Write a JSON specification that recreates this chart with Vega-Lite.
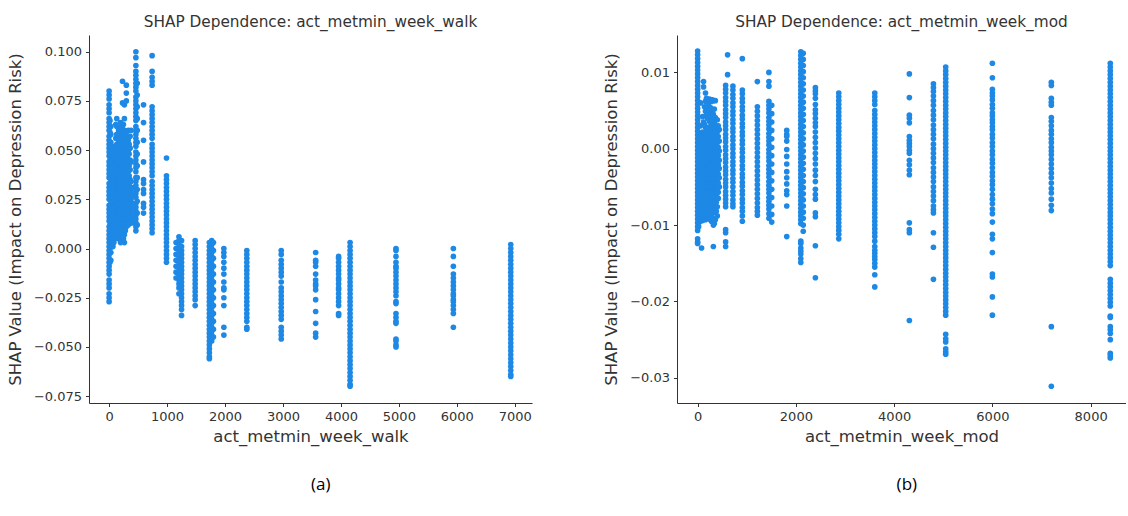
{
  "$schema": "https://vega.github.io/schema/vega-lite/v6.json",
  "background": "white",
  "padding": {"left": 7, "top": 14, "right": 0, "bottom": 14},
  "config": {
    "view": {"stroke": null},
    "font": "DejaVu Sans",
    "axis": {
      "grid": false,
      "domainColor": "#333333",
      "tickColor": "#333333",
      "labelColor": "#333333",
      "titleColor": "#333333",
      "labelFont": "DejaVu Sans",
      "titleFont": "DejaVu Sans",
      "labelFontSize": 13,
      "titleFontSize": 16.5,
      "titleFontWeight": "normal",
      "tickSize": 3.5,
      "labelPadding": 4,
      "titlePadding": 5,
      "labelExpr": "replace(datum.label, '-', '\u2212')"
    },
    "axisY": {"titlePadding": 10},
    "title": {"font": "DejaVu Sans", "fontSize": 15.3, "fontWeight": "normal", "color": "#333333", "offset": 5},
    "concat": {"spacing": 71}
  },
  "datasets": {
    "walk": [
      {"x":0,"y":0.080},{"x":0,"y":0.078},{"x":0,"y":0.076},{"x":0,"y":0.073},{"x":0,"y":0.071},{"x":0,"y":0.069},{"x":0,"y":0.066},{"x":0,"y":0.064},{"x":0,"y":0.062},{"x":0,"y":0.060},
      {"x":0,"y":0.057},{"x":0,"y":0.055},{"x":0,"y":0.053},{"x":0,"y":0.051},{"x":0,"y":0.049},{"x":0,"y":0.047},{"x":0,"y":0.044},{"x":0,"y":0.042},{"x":0,"y":0.040},{"x":0,"y":0.038},
      {"x":0,"y":0.036},{"x":0,"y":0.033},{"x":0,"y":0.031},{"x":0,"y":0.029},{"x":0,"y":0.027},{"x":0,"y":0.025},{"x":0,"y":0.022},{"x":0,"y":0.020},{"x":0,"y":0.018},{"x":0,"y":0.016},
      {"x":0,"y":0.014},{"x":0,"y":0.011},{"x":0,"y":0.009},{"x":0,"y":0.007},{"x":0,"y":0.005},{"x":0,"y":0.003},{"x":0,"y":0.001},{"x":0,"y":-0.001},{"x":0,"y":-0.003},{"x":0,"y":-0.005},
      {"x":0,"y":-0.007},{"x":0,"y":-0.009},{"x":0,"y":-0.011},{"x":0,"y":-0.013},{"x":0,"y":-0.016},{"x":0,"y":-0.018},{"x":0,"y":-0.020},{"x":0,"y":-0.023},{"x":0,"y":-0.025},{"x":0,"y":-0.027},
      {"x":15,"y":0.065},{"x":15,"y":0.059},{"x":15,"y":0.052},{"x":15,"y":0.045},{"x":15,"y":0.038},{"x":15,"y":0.032},{"x":15,"y":0.026},{"x":15,"y":0.019},{"x":15,"y":0.012},{"x":15,"y":0.006},{"x":15,"y":0.000},{"x":15,"y":-0.007},
      {"x":30,"y":0.062},{"x":30,"y":0.058},{"x":30,"y":0.054},{"x":30,"y":0.050},{"x":30,"y":0.046},{"x":30,"y":0.043},{"x":30,"y":0.039},{"x":30,"y":0.035},{"x":30,"y":0.031},{"x":30,"y":0.028},
      {"x":30,"y":0.024},{"x":30,"y":0.020},{"x":30,"y":0.016},{"x":30,"y":0.013},{"x":30,"y":0.009},{"x":30,"y":0.005},{"x":30,"y":0.002},{"x":30,"y":-0.002},{"x":30,"y":-0.006},
      {"x":48,"y":0.052},{"x":48,"y":0.047},{"x":48,"y":0.043},{"x":48,"y":0.039},{"x":48,"y":0.035},{"x":48,"y":0.030},{"x":48,"y":0.026},{"x":48,"y":0.022},{"x":48,"y":0.018},{"x":48,"y":0.014},{"x":48,"y":0.010},{"x":48,"y":0.006},{"x":48,"y":0.003},
      {"x":66,"y":0.045},{"x":66,"y":0.041},{"x":66,"y":0.037},{"x":66,"y":0.033},{"x":66,"y":0.028},{"x":66,"y":0.024},{"x":66,"y":0.020},{"x":66,"y":0.016},{"x":66,"y":0.012},{"x":66,"y":0.008},{"x":66,"y":0.004},{"x":66,"y":0.001},
      {"x":82,"y":0.048},{"x":82,"y":0.044},{"x":82,"y":0.039},{"x":82,"y":0.035},{"x":82,"y":0.031},{"x":82,"y":0.027},{"x":82,"y":0.023},{"x":82,"y":0.018},{"x":82,"y":0.014},{"x":82,"y":0.010},{"x":82,"y":0.006},{"x":82,"y":0.003},
      {"x":99,"y":0.050},{"x":99,"y":0.046},{"x":99,"y":0.042},{"x":99,"y":0.037},{"x":99,"y":0.033},{"x":99,"y":0.029},{"x":99,"y":0.025},{"x":99,"y":0.021},{"x":99,"y":0.016},{"x":99,"y":0.012},{"x":99,"y":0.008},{"x":99,"y":0.005},
      {"x":115,"y":0.063},{"x":115,"y":0.056},{"x":115,"y":0.052},{"x":115,"y":0.048},{"x":115,"y":0.044},{"x":115,"y":0.039},{"x":115,"y":0.035},{"x":115,"y":0.031},{"x":115,"y":0.027},{"x":115,"y":0.023},{"x":115,"y":0.019},{"x":115,"y":0.015},{"x":115,"y":0.011},{"x":115,"y":0.007},
      {"x":132,"y":0.066},{"x":132,"y":0.062},{"x":132,"y":0.058},{"x":132,"y":0.053},{"x":132,"y":0.048},{"x":132,"y":0.044},{"x":132,"y":0.040},{"x":132,"y":0.035},{"x":132,"y":0.031},{"x":132,"y":0.027},{"x":132,"y":0.022},{"x":132,"y":0.018},{"x":132,"y":0.014},{"x":132,"y":0.010},{"x":132,"y":0.006},
      {"x":148,"y":0.058},{"x":148,"y":0.053},{"x":148,"y":0.049},{"x":148,"y":0.044},{"x":148,"y":0.040},{"x":148,"y":0.036},{"x":148,"y":0.031},{"x":148,"y":0.027},{"x":148,"y":0.023},{"x":148,"y":0.019},{"x":148,"y":0.015},{"x":148,"y":0.011},{"x":148,"y":0.007},
      {"x":165,"y":0.060},{"x":165,"y":0.055},{"x":165,"y":0.050},{"x":165,"y":0.046},{"x":165,"y":0.042},{"x":165,"y":0.038},{"x":165,"y":0.033},{"x":165,"y":0.029},{"x":165,"y":0.025},{"x":165,"y":0.021},{"x":165,"y":0.017},{"x":165,"y":0.013},{"x":165,"y":0.009},{"x":165,"y":0.005},
      {"x":181,"y":0.057},{"x":181,"y":0.052},{"x":181,"y":0.047},{"x":181,"y":0.043},{"x":181,"y":0.038},{"x":181,"y":0.034},{"x":181,"y":0.030},{"x":181,"y":0.026},{"x":181,"y":0.022},{"x":181,"y":0.018},{"x":181,"y":0.014},{"x":181,"y":0.010},{"x":181,"y":0.006},
      {"x":198,"y":0.064},{"x":198,"y":0.059},{"x":198,"y":0.054},{"x":198,"y":0.049},{"x":198,"y":0.044},{"x":198,"y":0.039},{"x":198,"y":0.035},{"x":198,"y":0.030},{"x":198,"y":0.026},{"x":198,"y":0.022},{"x":198,"y":0.018},{"x":198,"y":0.014},{"x":198,"y":0.010},{"x":198,"y":0.006},{"x":198,"y":0.003},
      {"x":214,"y":0.062},{"x":214,"y":0.055},{"x":214,"y":0.050},{"x":214,"y":0.045},{"x":214,"y":0.041},{"x":214,"y":0.036},{"x":214,"y":0.032},{"x":214,"y":0.027},{"x":214,"y":0.023},{"x":214,"y":0.019},{"x":214,"y":0.015},{"x":214,"y":0.011},{"x":214,"y":0.007},{"x":214,"y":0.004},
      {"x":231,"y":0.085},{"x":231,"y":0.074},{"x":231,"y":0.061},{"x":231,"y":0.057},{"x":231,"y":0.052},{"x":231,"y":0.047},{"x":231,"y":0.043},{"x":231,"y":0.038},{"x":231,"y":0.034},{"x":231,"y":0.029},{"x":231,"y":0.025},{"x":231,"y":0.021},{"x":231,"y":0.016},{"x":231,"y":0.012},{"x":231,"y":0.008},{"x":231,"y":0.004},
      {"x":247,"y":0.063},{"x":247,"y":0.058},{"x":247,"y":0.053},{"x":247,"y":0.048},{"x":247,"y":0.043},{"x":247,"y":0.039},{"x":247,"y":0.034},{"x":247,"y":0.030},{"x":247,"y":0.026},{"x":247,"y":0.021},{"x":247,"y":0.017},{"x":247,"y":0.013},{"x":247,"y":0.009},{"x":247,"y":0.005},
      {"x":264,"y":0.073},{"x":264,"y":0.066},{"x":264,"y":0.060},{"x":264,"y":0.055},{"x":264,"y":0.050},{"x":264,"y":0.045},{"x":264,"y":0.041},{"x":264,"y":0.036},{"x":264,"y":0.032},{"x":264,"y":0.027},{"x":264,"y":0.023},{"x":264,"y":0.019},{"x":264,"y":0.015},{"x":264,"y":0.011},{"x":264,"y":0.007},{"x":264,"y":0.003},
      {"x":280,"y":0.057},{"x":280,"y":0.053},{"x":280,"y":0.048},{"x":280,"y":0.043},{"x":280,"y":0.038},{"x":280,"y":0.034},{"x":280,"y":0.029},{"x":280,"y":0.025},{"x":280,"y":0.021},{"x":280,"y":0.017},{"x":280,"y":0.013},{"x":280,"y":0.009},
      {"x":297,"y":0.083},{"x":297,"y":0.079},{"x":297,"y":0.075},{"x":297,"y":0.059},{"x":297,"y":0.052},{"x":297,"y":0.046},{"x":297,"y":0.041},{"x":297,"y":0.036},{"x":297,"y":0.031},{"x":297,"y":0.027},{"x":297,"y":0.023},{"x":297,"y":0.019},{"x":297,"y":0.015},{"x":297,"y":0.011},
      {"x":313,"y":0.055},{"x":313,"y":0.050},{"x":313,"y":0.046},{"x":313,"y":0.041},{"x":313,"y":0.037},{"x":313,"y":0.032},{"x":313,"y":0.028},{"x":313,"y":0.024},{"x":313,"y":0.020},{"x":313,"y":0.016},{"x":313,"y":0.013},
      {"x":330,"y":0.060},{"x":330,"y":0.055},{"x":330,"y":0.049},{"x":330,"y":0.044},{"x":330,"y":0.039},{"x":330,"y":0.034},{"x":330,"y":0.030},{"x":330,"y":0.026},{"x":330,"y":0.022},{"x":330,"y":0.018},{"x":330,"y":0.015},{"x":330,"y":0.012},
      {"x":346,"y":0.053},{"x":346,"y":0.048},{"x":346,"y":0.042},{"x":346,"y":0.037},{"x":346,"y":0.033},{"x":346,"y":0.029},{"x":346,"y":0.025},{"x":346,"y":0.021},{"x":346,"y":0.017},{"x":346,"y":0.014},
      {"x":363,"y":0.057},{"x":363,"y":0.051},{"x":363,"y":0.045},{"x":363,"y":0.040},{"x":363,"y":0.035},{"x":363,"y":0.031},{"x":363,"y":0.027},{"x":363,"y":0.023},{"x":363,"y":0.019},{"x":363,"y":0.016},{"x":363,"y":0.013},
      {"x":379,"y":0.060},{"x":379,"y":0.044},{"x":379,"y":0.034},{"x":379,"y":0.029},{"x":379,"y":0.025},{"x":379,"y":0.021},{"x":379,"y":0.017},{"x":379,"y":0.014},
      {"x":396,"y":0.031},{"x":396,"y":0.027},{"x":396,"y":0.023},{"x":396,"y":0.019},{"x":396,"y":0.016},{"x":396,"y":0.013},
      {"x":462,"y":0.100},{"x":462,"y":0.097},{"x":462,"y":0.093},{"x":462,"y":0.090},{"x":462,"y":0.088},{"x":462,"y":0.086},{"x":462,"y":0.084},{"x":462,"y":0.082},{"x":462,"y":0.080},{"x":462,"y":0.077},
      {"x":462,"y":0.075},{"x":462,"y":0.073},{"x":462,"y":0.071},{"x":462,"y":0.069},{"x":462,"y":0.067},{"x":462,"y":0.065},{"x":462,"y":0.062},{"x":462,"y":0.060},{"x":462,"y":0.058},{"x":462,"y":0.056},
      {"x":462,"y":0.054},{"x":462,"y":0.052},{"x":462,"y":0.049},{"x":462,"y":0.047},{"x":462,"y":0.045},{"x":462,"y":0.043},{"x":462,"y":0.041},{"x":462,"y":0.039},{"x":462,"y":0.036},{"x":462,"y":0.034},
      {"x":462,"y":0.032},{"x":462,"y":0.030},{"x":462,"y":0.028},{"x":462,"y":0.026},{"x":462,"y":0.023},{"x":462,"y":0.021},{"x":462,"y":0.019},{"x":462,"y":0.017},{"x":462,"y":0.015},{"x":462,"y":0.013},{"x":462,"y":0.011},{"x":462,"y":0.009},
      {"x":485,"y":0.084},{"x":485,"y":0.078},{"x":485,"y":0.072},{"x":485,"y":0.066},{"x":485,"y":0.060},{"x":485,"y":0.054},{"x":485,"y":0.048},{"x":485,"y":0.042},{"x":485,"y":0.036},{"x":485,"y":0.030},{"x":485,"y":0.024},{"x":485,"y":0.018},{"x":485,"y":0.012},
      {"x":594,"y":0.073},{"x":594,"y":0.064},{"x":594,"y":0.055},{"x":594,"y":0.044},{"x":594,"y":0.035},{"x":594,"y":0.033},{"x":594,"y":0.030},{"x":594,"y":0.028},{"x":594,"y":0.023},{"x":594,"y":0.021},{"x":594,"y":0.018},
      {"x":742,"y":0.098},{"x":742,"y":0.090},{"x":742,"y":0.087},{"x":742,"y":0.085},{"x":742,"y":0.083},{"x":742,"y":0.072},{"x":742,"y":0.070},{"x":742,"y":0.068},{"x":742,"y":0.066},{"x":742,"y":0.064},
      {"x":742,"y":0.062},{"x":742,"y":0.060},{"x":742,"y":0.058},{"x":742,"y":0.056},{"x":742,"y":0.053},{"x":742,"y":0.051},{"x":742,"y":0.049},{"x":742,"y":0.047},{"x":742,"y":0.045},{"x":742,"y":0.043},
      {"x":742,"y":0.041},{"x":742,"y":0.039},{"x":742,"y":0.037},{"x":742,"y":0.034},{"x":742,"y":0.032},{"x":742,"y":0.030},{"x":742,"y":0.028},{"x":742,"y":0.026},{"x":742,"y":0.024},{"x":742,"y":0.022},
      {"x":742,"y":0.020},{"x":742,"y":0.018},{"x":742,"y":0.016},{"x":742,"y":0.014},{"x":742,"y":0.012},{"x":742,"y":0.010},{"x":742,"y":0.008},
      {"x":990,"y":0.046},{"x":990,"y":0.037},{"x":990,"y":0.035},{"x":990,"y":0.033},{"x":990,"y":0.031},{"x":990,"y":0.029},{"x":990,"y":0.027},{"x":990,"y":0.025},{"x":990,"y":0.023},{"x":990,"y":0.021},{"x":990,"y":0.019},{"x":990,"y":0.017},
      {"x":990,"y":0.015},{"x":990,"y":0.013},{"x":990,"y":0.011},{"x":990,"y":0.009},{"x":990,"y":0.007},{"x":990,"y":0.005},{"x":990,"y":0.003},{"x":990,"y":0.001},{"x":990,"y":-0.001},{"x":990,"y":-0.003},{"x":990,"y":-0.005},{"x":990,"y":-0.007},
      {"x":1155,"y":0.003},{"x":1155,"y":0.000},{"x":1155,"y":-0.003},{"x":1155,"y":-0.006},{"x":1155,"y":-0.009},{"x":1155,"y":-0.012},{"x":1155,"y":-0.015},
      {"x":1205,"y":0.006},{"x":1205,"y":0.004},{"x":1205,"y":0.002},{"x":1205,"y":0.000},{"x":1205,"y":-0.002},{"x":1205,"y":-0.004},{"x":1205,"y":-0.006},{"x":1205,"y":-0.008},{"x":1205,"y":-0.010},{"x":1205,"y":-0.012},{"x":1205,"y":-0.014},{"x":1205,"y":-0.016},{"x":1205,"y":-0.018},{"x":1205,"y":-0.020},{"x":1205,"y":-0.023},
      {"x":1250,"y":0.004},{"x":1250,"y":0.001},{"x":1250,"y":-0.001},{"x":1250,"y":-0.003},{"x":1250,"y":-0.005},{"x":1250,"y":-0.007},{"x":1250,"y":-0.009},{"x":1250,"y":-0.011},{"x":1250,"y":-0.013},{"x":1250,"y":-0.015},
      {"x":1250,"y":-0.017},{"x":1250,"y":-0.019},{"x":1250,"y":-0.021},{"x":1250,"y":-0.023},{"x":1250,"y":-0.025},{"x":1250,"y":-0.027},{"x":1250,"y":-0.029},{"x":1250,"y":-0.031},{"x":1250,"y":-0.034},
      {"x":1485,"y":0.004},{"x":1485,"y":0.002},{"x":1485,"y":0.000},{"x":1485,"y":-0.002},{"x":1485,"y":-0.004},{"x":1485,"y":-0.006},{"x":1485,"y":-0.008},{"x":1485,"y":-0.010},{"x":1485,"y":-0.012},
      {"x":1485,"y":-0.014},{"x":1485,"y":-0.016},{"x":1485,"y":-0.018},{"x":1485,"y":-0.020},{"x":1485,"y":-0.022},{"x":1485,"y":-0.024},{"x":1485,"y":-0.026},{"x":1485,"y":-0.029},
      {"x":1730,"y":0.003},{"x":1730,"y":0.001},{"x":1730,"y":-0.001},{"x":1730,"y":-0.003},{"x":1730,"y":-0.005},{"x":1730,"y":-0.007},{"x":1730,"y":-0.009},{"x":1730,"y":-0.011},{"x":1730,"y":-0.013},{"x":1730,"y":-0.015},
      {"x":1730,"y":-0.017},{"x":1730,"y":-0.019},{"x":1730,"y":-0.021},{"x":1730,"y":-0.023},{"x":1730,"y":-0.025},{"x":1730,"y":-0.027},{"x":1730,"y":-0.029},{"x":1730,"y":-0.031},{"x":1730,"y":-0.033},{"x":1730,"y":-0.035},
      {"x":1730,"y":-0.037},{"x":1730,"y":-0.039},{"x":1730,"y":-0.041},{"x":1730,"y":-0.043},{"x":1730,"y":-0.045},{"x":1730,"y":-0.047},{"x":1730,"y":-0.049},{"x":1730,"y":-0.051},{"x":1730,"y":-0.053},{"x":1730,"y":-0.055},{"x":1730,"y":-0.056},
      {"x":1770,"y":0.004},{"x":1770,"y":0.002},{"x":1770,"y":0.000},{"x":1770,"y":-0.002},{"x":1770,"y":-0.004},{"x":1770,"y":-0.006},{"x":1770,"y":-0.008},{"x":1770,"y":-0.010},{"x":1770,"y":-0.012},{"x":1770,"y":-0.014},
      {"x":1770,"y":-0.016},{"x":1770,"y":-0.018},{"x":1770,"y":-0.020},{"x":1770,"y":-0.022},{"x":1770,"y":-0.024},{"x":1770,"y":-0.026},{"x":1770,"y":-0.028},{"x":1770,"y":-0.030},{"x":1770,"y":-0.032},{"x":1770,"y":-0.034},
      {"x":1770,"y":-0.036},{"x":1770,"y":-0.038},{"x":1770,"y":-0.040},{"x":1770,"y":-0.042},{"x":1770,"y":-0.044},{"x":1770,"y":-0.047},
      {"x":1800,"y":0.003},{"x":1800,"y":-0.001},{"x":1800,"y":-0.005},{"x":1800,"y":-0.009},{"x":1800,"y":-0.013},{"x":1800,"y":-0.017},{"x":1800,"y":-0.021},{"x":1800,"y":-0.025},{"x":1800,"y":-0.029},{"x":1800,"y":-0.033},{"x":1800,"y":-0.037},{"x":1800,"y":-0.041},{"x":1800,"y":-0.045},
      {"x":1980,"y":0.000},{"x":1980,"y":-0.002},{"x":1980,"y":-0.004},{"x":1980,"y":-0.007},{"x":1980,"y":-0.010},{"x":1980,"y":-0.013},{"x":1980,"y":-0.017},{"x":1980,"y":-0.020},{"x":1980,"y":-0.021},{"x":1980,"y":-0.025},{"x":1980,"y":-0.029},{"x":1980,"y":-0.040},{"x":1980,"y":-0.044},
      {"x":2376,"y":-0.001},{"x":2376,"y":-0.003},{"x":2376,"y":-0.005},{"x":2376,"y":-0.007},{"x":2376,"y":-0.009},{"x":2376,"y":-0.011},{"x":2376,"y":-0.013},{"x":2376,"y":-0.015},{"x":2376,"y":-0.017},{"x":2376,"y":-0.019},
      {"x":2376,"y":-0.021},{"x":2376,"y":-0.023},{"x":2376,"y":-0.025},{"x":2376,"y":-0.027},{"x":2376,"y":-0.029},{"x":2376,"y":-0.031},{"x":2376,"y":-0.033},{"x":2376,"y":-0.035},{"x":2376,"y":-0.037},{"x":2376,"y":-0.040},{"x":2376,"y":-0.041},
      {"x":2970,"y":-0.001},{"x":2970,"y":-0.003},{"x":2970,"y":-0.006},{"x":2970,"y":-0.008},{"x":2970,"y":-0.010},{"x":2970,"y":-0.012},{"x":2970,"y":-0.014},{"x":2970,"y":-0.017},{"x":2970,"y":-0.020},{"x":2970,"y":-0.022},
      {"x":2970,"y":-0.024},{"x":2970,"y":-0.026},{"x":2970,"y":-0.028},{"x":2970,"y":-0.030},{"x":2970,"y":-0.032},{"x":2970,"y":-0.034},{"x":2970,"y":-0.036},{"x":2970,"y":-0.040},{"x":2970,"y":-0.042},{"x":2970,"y":-0.044},{"x":2970,"y":-0.046},
      {"x":3564,"y":-0.002},{"x":3564,"y":-0.006},{"x":3564,"y":-0.007},{"x":3564,"y":-0.009},{"x":3564,"y":-0.013},{"x":3564,"y":-0.016},{"x":3564,"y":-0.018},{"x":3564,"y":-0.019},{"x":3564,"y":-0.021},{"x":3564,"y":-0.026},{"x":3564,"y":-0.032},{"x":3564,"y":-0.038},{"x":3564,"y":-0.043},{"x":3564,"y":-0.045},
      {"x":3960,"y":-0.004},{"x":3960,"y":-0.005},{"x":3960,"y":-0.007},{"x":3960,"y":-0.009},{"x":3960,"y":-0.011},{"x":3960,"y":-0.013},{"x":3960,"y":-0.015},{"x":3960,"y":-0.016},{"x":3960,"y":-0.018},
      {"x":3960,"y":-0.020},{"x":3960,"y":-0.021},{"x":3960,"y":-0.023},{"x":3960,"y":-0.025},{"x":3960,"y":-0.027},{"x":3960,"y":-0.029},{"x":3960,"y":-0.033},{"x":3960,"y":-0.034},
      {"x":4158,"y":0.003},{"x":4158,"y":0.001},{"x":4158,"y":-0.001},{"x":4158,"y":-0.003},{"x":4158,"y":-0.005},{"x":4158,"y":-0.007},{"x":4158,"y":-0.009},{"x":4158,"y":-0.011},{"x":4158,"y":-0.013},{"x":4158,"y":-0.015},
      {"x":4158,"y":-0.017},{"x":4158,"y":-0.019},{"x":4158,"y":-0.021},{"x":4158,"y":-0.023},{"x":4158,"y":-0.025},{"x":4158,"y":-0.027},{"x":4158,"y":-0.029},{"x":4158,"y":-0.031},{"x":4158,"y":-0.033},{"x":4158,"y":-0.035},
      {"x":4158,"y":-0.037},{"x":4158,"y":-0.039},{"x":4158,"y":-0.041},{"x":4158,"y":-0.043},{"x":4158,"y":-0.045},{"x":4158,"y":-0.047},{"x":4158,"y":-0.049},{"x":4158,"y":-0.051},{"x":4158,"y":-0.053},{"x":4158,"y":-0.055},
      {"x":4158,"y":-0.057},{"x":4158,"y":-0.059},{"x":4158,"y":-0.061},{"x":4158,"y":-0.063},{"x":4158,"y":-0.065},{"x":4158,"y":-0.067},{"x":4158,"y":-0.069},{"x":4158,"y":-0.070},
      {"x":4950,"y":0.000},{"x":4950,"y":-0.001},{"x":4950,"y":-0.004},{"x":4950,"y":-0.007},{"x":4950,"y":-0.009},{"x":4950,"y":-0.010},{"x":4950,"y":-0.012},{"x":4950,"y":-0.014},{"x":4950,"y":-0.016},{"x":4950,"y":-0.018},{"x":4950,"y":-0.020},{"x":4950,"y":-0.022},
      {"x":4950,"y":-0.024},{"x":4950,"y":-0.027},{"x":4950,"y":-0.028},{"x":4950,"y":-0.033},{"x":4950,"y":-0.035},{"x":4950,"y":-0.037},{"x":4950,"y":-0.038},{"x":4950,"y":-0.046},{"x":4950,"y":-0.047},{"x":4950,"y":-0.049},{"x":4950,"y":-0.050},
      {"x":5940,"y":0.000},{"x":5940,"y":-0.004},{"x":5940,"y":-0.009},{"x":5940,"y":-0.013},{"x":5940,"y":-0.015},{"x":5940,"y":-0.017},{"x":5940,"y":-0.019},{"x":5940,"y":-0.021},{"x":5940,"y":-0.023},{"x":5940,"y":-0.024},{"x":5940,"y":-0.026},{"x":5940,"y":-0.027},{"x":5940,"y":-0.029},{"x":5940,"y":-0.031},{"x":5940,"y":-0.033},{"x":5940,"y":-0.040},
      {"x":6930,"y":0.002},{"x":6930,"y":0.000},{"x":6930,"y":-0.002},{"x":6930,"y":-0.004},{"x":6930,"y":-0.006},{"x":6930,"y":-0.008},{"x":6930,"y":-0.010},{"x":6930,"y":-0.012},{"x":6930,"y":-0.014},{"x":6930,"y":-0.016},
      {"x":6930,"y":-0.018},{"x":6930,"y":-0.020},{"x":6930,"y":-0.022},{"x":6930,"y":-0.024},{"x":6930,"y":-0.026},{"x":6930,"y":-0.028},{"x":6930,"y":-0.030},{"x":6930,"y":-0.032},{"x":6930,"y":-0.034},{"x":6930,"y":-0.036},
      {"x":6930,"y":-0.038},{"x":6930,"y":-0.040},{"x":6930,"y":-0.042},{"x":6930,"y":-0.044},{"x":6930,"y":-0.046},{"x":6930,"y":-0.048},{"x":6930,"y":-0.050},{"x":6930,"y":-0.052},{"x":6930,"y":-0.054},{"x":6930,"y":-0.056},
      {"x":6930,"y":-0.058},{"x":6930,"y":-0.060},{"x":6930,"y":-0.062},{"x":6930,"y":-0.064},{"x":6930,"y":-0.065}
    ],
    "mod": [
      {"x":0,"y":0.0128},{"x":0,"y":0.0123},{"x":0,"y":0.0118},{"x":0,"y":0.0113},{"x":0,"y":0.0108},{"x":0,"y":0.0103},{"x":0,"y":0.0098},{"x":0,"y":0.0093},{"x":0,"y":0.0088},{"x":0,"y":0.0083},
      {"x":0,"y":0.0078},{"x":0,"y":0.0073},{"x":0,"y":0.0068},{"x":0,"y":0.0063},{"x":0,"y":0.0058},{"x":0,"y":0.0053},{"x":0,"y":0.0048},{"x":0,"y":0.0043},{"x":0,"y":0.0038},{"x":0,"y":0.0033},
      {"x":0,"y":0.0028},{"x":0,"y":0.0023},{"x":0,"y":0.0018},{"x":0,"y":0.0013},{"x":0,"y":0.0008},{"x":0,"y":0.0003},{"x":0,"y":-0.0002},{"x":0,"y":-0.0007},{"x":0,"y":-0.0012},{"x":0,"y":-0.0017},
      {"x":0,"y":-0.0022},{"x":0,"y":-0.0027},{"x":0,"y":-0.0032},{"x":0,"y":-0.0037},{"x":0,"y":-0.0042},{"x":0,"y":-0.0047},{"x":0,"y":-0.0052},{"x":0,"y":-0.0057},{"x":0,"y":-0.0062},{"x":0,"y":-0.0067},
      {"x":0,"y":-0.0072},{"x":0,"y":-0.0077},{"x":0,"y":-0.0082},{"x":0,"y":-0.0087},{"x":0,"y":-0.0092},{"x":0,"y":-0.0097},{"x":0,"y":-0.0102},{"x":0,"y":-0.0107},{"x":0,"y":-0.0118},{"x":0,"y":-0.0122},{"x":0,"y":-0.0124},
      {"x":20,"y":0.0020},{"x":20,"y":0.0010},{"x":20,"y":0.0001},{"x":20,"y":-0.0008},{"x":20,"y":-0.0016},{"x":20,"y":-0.0025},{"x":20,"y":-0.0033},{"x":20,"y":-0.0042},{"x":20,"y":-0.0050},{"x":20,"y":-0.0059},{"x":20,"y":-0.0068},{"x":20,"y":-0.0076},{"x":20,"y":-0.0085},{"x":20,"y":-0.0093},{"x":20,"y":-0.0102},
      {"x":40,"y":0.0015},{"x":40,"y":0.0005},{"x":40,"y":-0.0003},{"x":40,"y":-0.0012},{"x":40,"y":-0.0020},{"x":40,"y":-0.0029},{"x":40,"y":-0.0037},{"x":40,"y":-0.0046},{"x":40,"y":-0.0055},{"x":40,"y":-0.0063},{"x":40,"y":-0.0072},{"x":40,"y":-0.0080},{"x":40,"y":-0.0089},{"x":40,"y":-0.0096},
      {"x":60,"y":0.0060},{"x":60,"y":0.0030},{"x":60,"y":0.0016},{"x":60,"y":0.0007},{"x":60,"y":-0.0002},{"x":60,"y":-0.0011},{"x":60,"y":-0.0020},{"x":60,"y":-0.0029},{"x":60,"y":-0.0038},{"x":60,"y":-0.0047},{"x":60,"y":-0.0056},{"x":60,"y":-0.0064},{"x":60,"y":-0.0073},{"x":60,"y":-0.0082},{"x":60,"y":-0.0090},
      {"x":80,"y":0.0020},{"x":80,"y":0.0011},{"x":80,"y":0.0002},{"x":80,"y":-0.0007},{"x":80,"y":-0.0016},{"x":80,"y":-0.0025},{"x":80,"y":-0.0033},{"x":80,"y":-0.0042},{"x":80,"y":-0.0051},{"x":80,"y":-0.0060},{"x":80,"y":-0.0068},{"x":80,"y":-0.0077},{"x":80,"y":-0.0086},{"x":80,"y":-0.0094},{"x":80,"y":-0.0130},
      {"x":100,"y":0.0042},{"x":100,"y":0.0022},{"x":100,"y":0.0012},{"x":100,"y":0.0003},{"x":100,"y":-0.0006},{"x":100,"y":-0.0015},{"x":100,"y":-0.0024},{"x":100,"y":-0.0033},{"x":100,"y":-0.0042},{"x":100,"y":-0.0050},{"x":100,"y":-0.0059},{"x":100,"y":-0.0068},{"x":100,"y":-0.0077},{"x":100,"y":-0.0086},{"x":100,"y":-0.0094},
      {"x":120,"y":0.0088},{"x":120,"y":0.0081},{"x":120,"y":0.0035},{"x":120,"y":0.0017},{"x":120,"y":0.0008},{"x":120,"y":-0.0001},{"x":120,"y":-0.0010},{"x":120,"y":-0.0019},{"x":120,"y":-0.0028},{"x":120,"y":-0.0037},{"x":120,"y":-0.0046},{"x":120,"y":-0.0055},{"x":120,"y":-0.0064},{"x":120,"y":-0.0073},{"x":120,"y":-0.0082},{"x":120,"y":-0.0090},
      {"x":140,"y":0.0055},{"x":140,"y":0.0032},{"x":140,"y":0.0021},{"x":140,"y":0.0010},{"x":140,"y":0.0000},{"x":140,"y":-0.0009},{"x":140,"y":-0.0018},{"x":140,"y":-0.0027},{"x":140,"y":-0.0036},{"x":140,"y":-0.0044},{"x":140,"y":-0.0053},{"x":140,"y":-0.0062},{"x":140,"y":-0.0071},{"x":140,"y":-0.0080},{"x":140,"y":-0.0089},
      {"x":160,"y":0.0073},{"x":160,"y":0.0062},{"x":160,"y":0.0049},{"x":160,"y":0.0028},{"x":160,"y":0.0015},{"x":160,"y":0.0005},{"x":160,"y":-0.0004},{"x":160,"y":-0.0013},{"x":160,"y":-0.0022},{"x":160,"y":-0.0031},{"x":160,"y":-0.0040},{"x":160,"y":-0.0049},{"x":160,"y":-0.0058},{"x":160,"y":-0.0067},{"x":160,"y":-0.0076},{"x":160,"y":-0.0085},{"x":160,"y":-0.0093},
      {"x":180,"y":0.0066},{"x":180,"y":0.0044},{"x":180,"y":0.0019},{"x":180,"y":0.0009},{"x":180,"y":-0.0001},{"x":180,"y":-0.0010},{"x":180,"y":-0.0020},{"x":180,"y":-0.0030},{"x":180,"y":-0.0039},{"x":180,"y":-0.0049},{"x":180,"y":-0.0058},{"x":180,"y":-0.0067},{"x":180,"y":-0.0076},{"x":180,"y":-0.0084},
      {"x":200,"y":0.0064},{"x":200,"y":0.0055},{"x":200,"y":0.0040},{"x":200,"y":0.0023},{"x":200,"y":0.0012},{"x":200,"y":0.0002},{"x":200,"y":-0.0008},{"x":200,"y":-0.0017},{"x":200,"y":-0.0027},{"x":200,"y":-0.0036},{"x":200,"y":-0.0045},{"x":200,"y":-0.0054},{"x":200,"y":-0.0063},{"x":200,"y":-0.0072},{"x":200,"y":-0.0081},{"x":200,"y":-0.0088},
      {"x":220,"y":0.0059},{"x":220,"y":0.0045},{"x":220,"y":0.0028},{"x":220,"y":0.0016},{"x":220,"y":0.0005},{"x":220,"y":-0.0005},{"x":220,"y":-0.0015},{"x":220,"y":-0.0025},{"x":220,"y":-0.0035},{"x":220,"y":-0.0045},{"x":220,"y":-0.0055},{"x":220,"y":-0.0065},{"x":220,"y":-0.0075},{"x":220,"y":-0.0085},
      {"x":240,"y":0.0065},{"x":240,"y":0.0050},{"x":240,"y":0.0036},{"x":240,"y":0.0020},{"x":240,"y":0.0009},{"x":240,"y":-0.0001},{"x":240,"y":-0.0011},{"x":240,"y":-0.0021},{"x":240,"y":-0.0031},{"x":240,"y":-0.0041},{"x":240,"y":-0.0051},{"x":240,"y":-0.0060},{"x":240,"y":-0.0070},{"x":240,"y":-0.0079},{"x":240,"y":-0.0092},
      {"x":260,"y":0.0063},{"x":260,"y":0.0054},{"x":260,"y":0.0040},{"x":260,"y":0.0025},{"x":260,"y":0.0012},{"x":260,"y":0.0001},{"x":260,"y":-0.0009},{"x":260,"y":-0.0019},{"x":260,"y":-0.0029},{"x":260,"y":-0.0039},{"x":260,"y":-0.0049},{"x":260,"y":-0.0059},{"x":260,"y":-0.0069},{"x":260,"y":-0.0080},{"x":260,"y":-0.0090},
      {"x":280,"y":0.0062},{"x":280,"y":0.0047},{"x":280,"y":0.0032},{"x":280,"y":0.0018},{"x":280,"y":0.0006},{"x":280,"y":-0.0004},{"x":280,"y":-0.0014},{"x":280,"y":-0.0024},{"x":280,"y":-0.0034},{"x":280,"y":-0.0044},{"x":280,"y":-0.0054},{"x":280,"y":-0.0064},{"x":280,"y":-0.0074},{"x":280,"y":-0.0085},{"x":280,"y":-0.0095},
      {"x":300,"y":0.0064},{"x":300,"y":0.0038},{"x":300,"y":0.0023},{"x":300,"y":0.0009},{"x":300,"y":-0.0002},{"x":300,"y":-0.0013},{"x":300,"y":-0.0024},{"x":300,"y":-0.0034},{"x":300,"y":-0.0045},{"x":300,"y":-0.0055},{"x":300,"y":-0.0066},{"x":300,"y":-0.0077},{"x":300,"y":-0.0090},
      {"x":320,"y":0.0063},{"x":320,"y":0.0045},{"x":320,"y":0.0030},{"x":320,"y":0.0014},{"x":320,"y":0.0003},{"x":320,"y":-0.0008},{"x":320,"y":-0.0019},{"x":320,"y":-0.0029},{"x":320,"y":-0.0039},{"x":320,"y":-0.0050},{"x":320,"y":-0.0060},{"x":320,"y":-0.0071},{"x":320,"y":-0.0082},{"x":320,"y":-0.0100},{"x":320,"y":-0.0128},
      {"x":340,"y":0.0052},{"x":340,"y":0.0035},{"x":340,"y":0.0019},{"x":340,"y":0.0005},{"x":340,"y":-0.0006},{"x":340,"y":-0.0017},{"x":340,"y":-0.0028},{"x":340,"y":-0.0039},{"x":340,"y":-0.0050},{"x":340,"y":-0.0061},{"x":340,"y":-0.0072},{"x":340,"y":-0.0083},{"x":340,"y":-0.0098},
      {"x":360,"y":0.0063},{"x":360,"y":0.0041},{"x":360,"y":0.0026},{"x":360,"y":0.0010},{"x":360,"y":-0.0001},{"x":360,"y":-0.0012},{"x":360,"y":-0.0023},{"x":360,"y":-0.0034},{"x":360,"y":-0.0045},{"x":360,"y":-0.0056},{"x":360,"y":-0.0067},{"x":360,"y":-0.0078},{"x":360,"y":-0.0093},
      {"x":380,"y":0.0030},{"x":380,"y":0.0015},{"x":380,"y":0.0002},{"x":380,"y":-0.0010},{"x":380,"y":-0.0022},{"x":380,"y":-0.0034},{"x":380,"y":-0.0046},{"x":380,"y":-0.0058},{"x":380,"y":-0.0070},{"x":380,"y":-0.0082},
      {"x":400,"y":0.0038},{"x":400,"y":0.0022},{"x":400,"y":0.0008},{"x":400,"y":-0.0004},{"x":400,"y":-0.0016},{"x":400,"y":-0.0028},{"x":400,"y":-0.0040},{"x":400,"y":-0.0052},{"x":400,"y":-0.0064},{"x":400,"y":-0.0076},{"x":400,"y":-0.0088},
      {"x":420,"y":0.0030},{"x":420,"y":0.0016},{"x":420,"y":0.0002},{"x":420,"y":-0.0009},{"x":420,"y":-0.0021},{"x":420,"y":-0.0033},{"x":420,"y":-0.0045},{"x":420,"y":-0.0057},{"x":420,"y":-0.0065},
      {"x":440,"y":0.0025},{"x":440,"y":0.0010},{"x":440,"y":-0.0003},{"x":440,"y":-0.0015},{"x":440,"y":-0.0026},{"x":440,"y":-0.0038},{"x":440,"y":-0.0050},
      {"x":570,"y":0.0083},{"x":570,"y":0.0078},{"x":570,"y":0.0073},{"x":570,"y":0.0067},{"x":570,"y":0.0062},{"x":570,"y":0.0057},{"x":570,"y":0.0051},{"x":570,"y":0.0046},{"x":570,"y":0.0041},{"x":570,"y":0.0035},
      {"x":570,"y":0.0030},{"x":570,"y":0.0025},{"x":570,"y":0.0019},{"x":570,"y":0.0014},{"x":570,"y":0.0009},{"x":570,"y":0.0003},{"x":570,"y":-0.0002},{"x":570,"y":-0.0008},{"x":570,"y":-0.0013},{"x":570,"y":-0.0018},
      {"x":570,"y":-0.0024},{"x":570,"y":-0.0029},{"x":570,"y":-0.0034},{"x":570,"y":-0.0040},{"x":570,"y":-0.0045},{"x":570,"y":-0.0050},{"x":570,"y":-0.0056},{"x":570,"y":-0.0061},{"x":570,"y":-0.0066},{"x":570,"y":-0.0071},
      {"x":570,"y":-0.0076},{"x":570,"y":-0.0106},{"x":570,"y":-0.0110},{"x":570,"y":-0.0122},{"x":570,"y":-0.0128},
      {"x":610,"y":0.0123},{"x":610,"y":0.0097},
      {"x":718,"y":0.0082},{"x":718,"y":0.0077},{"x":718,"y":0.0071},{"x":718,"y":0.0066},{"x":718,"y":0.0060},{"x":718,"y":0.0055},{"x":718,"y":0.0049},{"x":718,"y":0.0044},{"x":718,"y":0.0038},{"x":718,"y":0.0033},
      {"x":718,"y":0.0027},{"x":718,"y":0.0022},{"x":718,"y":0.0016},{"x":718,"y":0.0011},{"x":718,"y":0.0005},{"x":718,"y":0.0000},{"x":718,"y":-0.0006},{"x":718,"y":-0.0011},{"x":718,"y":-0.0017},{"x":718,"y":-0.0022},
      {"x":718,"y":-0.0028},{"x":718,"y":-0.0033},{"x":718,"y":-0.0039},{"x":718,"y":-0.0044},{"x":718,"y":-0.0050},{"x":718,"y":-0.0056},{"x":718,"y":-0.0061},{"x":718,"y":-0.0067},{"x":718,"y":-0.0072},{"x":718,"y":-0.0076},
      {"x":910,"y":0.0118},{"x":910,"y":0.0077},{"x":910,"y":0.0072},{"x":910,"y":0.0066},{"x":910,"y":0.0061},{"x":910,"y":0.0055},{"x":910,"y":0.0050},{"x":910,"y":0.0044},{"x":910,"y":0.0039},{"x":910,"y":0.0033},
      {"x":910,"y":0.0028},{"x":910,"y":0.0022},{"x":910,"y":0.0017},{"x":910,"y":0.0011},{"x":910,"y":0.0006},{"x":910,"y":0.0000},{"x":910,"y":-0.0005},{"x":910,"y":-0.0011},{"x":910,"y":-0.0016},{"x":910,"y":-0.0022},
      {"x":910,"y":-0.0027},{"x":910,"y":-0.0033},{"x":910,"y":-0.0038},{"x":910,"y":-0.0044},{"x":910,"y":-0.0049},{"x":910,"y":-0.0055},{"x":910,"y":-0.0060},{"x":910,"y":-0.0066},{"x":910,"y":-0.0071},{"x":910,"y":-0.0077},{"x":910,"y":-0.0082},{"x":910,"y":-0.0088},{"x":910,"y":-0.0095},
      {"x":1216,"y":0.0088},{"x":1216,"y":0.0055},{"x":1216,"y":0.0049},{"x":1216,"y":0.0043},{"x":1216,"y":0.0037},{"x":1216,"y":0.0031},{"x":1216,"y":0.0025},{"x":1216,"y":0.0019},{"x":1216,"y":0.0013},{"x":1216,"y":0.0007},
      {"x":1216,"y":0.0001},{"x":1216,"y":-0.0005},{"x":1216,"y":-0.0011},{"x":1216,"y":-0.0017},{"x":1216,"y":-0.0023},{"x":1216,"y":-0.0029},{"x":1216,"y":-0.0035},{"x":1216,"y":-0.0041},{"x":1216,"y":-0.0047},{"x":1216,"y":-0.0053},
      {"x":1216,"y":-0.0059},{"x":1216,"y":-0.0065},{"x":1216,"y":-0.0071},{"x":1216,"y":-0.0077},{"x":1216,"y":-0.0082},{"x":1216,"y":-0.0087},
      {"x":1451,"y":0.0100},{"x":1451,"y":0.0088},{"x":1451,"y":0.0082},{"x":1451,"y":0.0062},{"x":1451,"y":0.0057},{"x":1451,"y":0.0052},{"x":1451,"y":0.0047},{"x":1451,"y":0.0041},{"x":1451,"y":0.0036},{"x":1451,"y":0.0031},
      {"x":1451,"y":0.0026},{"x":1451,"y":0.0020},{"x":1451,"y":0.0015},{"x":1451,"y":0.0010},{"x":1451,"y":0.0005},{"x":1451,"y":-0.0001},{"x":1451,"y":-0.0006},{"x":1451,"y":-0.0011},{"x":1451,"y":-0.0016},{"x":1451,"y":-0.0022},
      {"x":1451,"y":-0.0027},{"x":1451,"y":-0.0032},{"x":1451,"y":-0.0037},{"x":1451,"y":-0.0043},{"x":1451,"y":-0.0048},{"x":1451,"y":-0.0053},{"x":1451,"y":-0.0058},{"x":1451,"y":-0.0064},{"x":1451,"y":-0.0069},{"x":1451,"y":-0.0074},{"x":1451,"y":-0.0079},{"x":1451,"y":-0.0085},{"x":1451,"y":-0.0091},
      {"x":1508,"y":0.0057},{"x":1508,"y":0.0046},{"x":1508,"y":0.0035},{"x":1508,"y":0.0024},{"x":1508,"y":0.0013},{"x":1508,"y":0.0002},{"x":1508,"y":-0.0009},{"x":1508,"y":-0.0020},{"x":1508,"y":-0.0031},{"x":1508,"y":-0.0042},{"x":1508,"y":-0.0053},{"x":1508,"y":-0.0064},{"x":1508,"y":-0.0075},{"x":1508,"y":-0.0086},{"x":1508,"y":-0.0096},
      {"x":1814,"y":0.0024},{"x":1814,"y":0.0019},{"x":1814,"y":0.0016},{"x":1814,"y":0.0010},{"x":1814,"y":-0.0001},{"x":1814,"y":-0.0010},{"x":1814,"y":-0.0020},{"x":1814,"y":-0.0030},{"x":1814,"y":-0.0038},{"x":1814,"y":-0.0046},{"x":1814,"y":-0.0055},{"x":1814,"y":-0.0060},{"x":1814,"y":-0.0075},{"x":1814,"y":-0.0115},
      {"x":2100,"y":0.0127},{"x":2100,"y":0.0122},{"x":2100,"y":0.0117},{"x":2100,"y":0.0112},{"x":2100,"y":0.0107},{"x":2100,"y":0.0102},{"x":2100,"y":0.0097},{"x":2100,"y":0.0092},{"x":2100,"y":0.0087},{"x":2100,"y":0.0082},
      {"x":2100,"y":0.0077},{"x":2100,"y":0.0072},{"x":2100,"y":0.0067},{"x":2100,"y":0.0062},{"x":2100,"y":0.0057},{"x":2100,"y":0.0052},{"x":2100,"y":0.0047},{"x":2100,"y":0.0042},{"x":2100,"y":0.0037},{"x":2100,"y":0.0032},
      {"x":2100,"y":0.0027},{"x":2100,"y":0.0022},{"x":2100,"y":0.0017},{"x":2100,"y":0.0012},{"x":2100,"y":0.0007},{"x":2100,"y":0.0002},{"x":2100,"y":-0.0003},{"x":2100,"y":-0.0008},{"x":2100,"y":-0.0013},{"x":2100,"y":-0.0018},
      {"x":2100,"y":-0.0023},{"x":2100,"y":-0.0028},{"x":2100,"y":-0.0033},{"x":2100,"y":-0.0038},{"x":2100,"y":-0.0043},{"x":2100,"y":-0.0048},{"x":2100,"y":-0.0053},{"x":2100,"y":-0.0058},{"x":2100,"y":-0.0063},{"x":2100,"y":-0.0068},
      {"x":2100,"y":-0.0073},{"x":2100,"y":-0.0078},{"x":2100,"y":-0.0083},{"x":2100,"y":-0.0088},{"x":2100,"y":-0.0093},{"x":2100,"y":-0.0098},{"x":2100,"y":-0.0121},{"x":2100,"y":-0.0124},{"x":2100,"y":-0.0130},{"x":2100,"y":-0.0134},{"x":2100,"y":-0.0138},{"x":2100,"y":-0.0144},{"x":2100,"y":-0.0149},
      {"x":2150,"y":0.0125},{"x":2150,"y":0.0117},{"x":2150,"y":0.0109},{"x":2150,"y":0.0101},{"x":2150,"y":0.0093},{"x":2150,"y":0.0085},{"x":2150,"y":0.0077},{"x":2150,"y":0.0069},{"x":2150,"y":0.0061},{"x":2150,"y":0.0053},
      {"x":2150,"y":0.0045},{"x":2150,"y":0.0037},{"x":2150,"y":0.0029},{"x":2150,"y":0.0021},{"x":2150,"y":0.0013},{"x":2150,"y":0.0005},{"x":2150,"y":-0.0003},{"x":2150,"y":-0.0011},{"x":2150,"y":-0.0019},{"x":2150,"y":-0.0027},
      {"x":2150,"y":-0.0035},{"x":2150,"y":-0.0043},{"x":2150,"y":-0.0051},{"x":2150,"y":-0.0059},{"x":2150,"y":-0.0067},{"x":2150,"y":-0.0075},{"x":2150,"y":-0.0083},{"x":2150,"y":-0.0091},{"x":2150,"y":-0.0100},{"x":2150,"y":-0.0108},
      {"x":2397,"y":0.0080},{"x":2397,"y":0.0076},{"x":2397,"y":0.0072},{"x":2397,"y":0.0066},{"x":2397,"y":0.0058},{"x":2397,"y":0.0051},{"x":2397,"y":0.0046},{"x":2397,"y":0.0040},{"x":2397,"y":0.0034},{"x":2397,"y":0.0029},
      {"x":2397,"y":0.0022},{"x":2397,"y":0.0015},{"x":2397,"y":0.0008},{"x":2397,"y":0.0001},{"x":2397,"y":-0.0006},{"x":2397,"y":-0.0013},{"x":2397,"y":-0.0020},{"x":2397,"y":-0.0028},{"x":2397,"y":-0.0035},{"x":2397,"y":-0.0043},
      {"x":2397,"y":-0.0053},{"x":2397,"y":-0.0060},{"x":2397,"y":-0.0066},{"x":2397,"y":-0.0084},{"x":2397,"y":-0.0089},{"x":2397,"y":-0.0127},{"x":2397,"y":-0.0169},
      {"x":2873,"y":0.0073},{"x":2873,"y":0.0068},{"x":2873,"y":0.0063},{"x":2873,"y":0.0058},{"x":2873,"y":0.0053},{"x":2873,"y":0.0048},{"x":2873,"y":0.0043},{"x":2873,"y":0.0038},{"x":2873,"y":0.0033},{"x":2873,"y":0.0028},
      {"x":2873,"y":0.0023},{"x":2873,"y":0.0018},{"x":2873,"y":0.0013},{"x":2873,"y":0.0008},{"x":2873,"y":0.0003},{"x":2873,"y":-0.0002},{"x":2873,"y":-0.0007},{"x":2873,"y":-0.0012},{"x":2873,"y":-0.0017},{"x":2873,"y":-0.0022},
      {"x":2873,"y":-0.0027},{"x":2873,"y":-0.0032},{"x":2873,"y":-0.0037},{"x":2873,"y":-0.0042},{"x":2873,"y":-0.0047},{"x":2873,"y":-0.0052},{"x":2873,"y":-0.0057},{"x":2873,"y":-0.0062},{"x":2873,"y":-0.0067},{"x":2873,"y":-0.0072},
      {"x":2873,"y":-0.0077},{"x":2873,"y":-0.0082},{"x":2873,"y":-0.0087},{"x":2873,"y":-0.0092},{"x":2873,"y":-0.0097},{"x":2873,"y":-0.0102},{"x":2873,"y":-0.0107},{"x":2873,"y":-0.0112},{"x":2873,"y":-0.0118},
      {"x":3606,"y":0.0073},{"x":3606,"y":0.0068},{"x":3606,"y":0.0063},{"x":3606,"y":0.0058},{"x":3606,"y":0.0050},{"x":3606,"y":0.0045},{"x":3606,"y":0.0040},{"x":3606,"y":0.0035},{"x":3606,"y":0.0030},{"x":3606,"y":0.0025},
      {"x":3606,"y":0.0020},{"x":3606,"y":0.0015},{"x":3606,"y":0.0010},{"x":3606,"y":0.0005},{"x":3606,"y":0.0000},{"x":3606,"y":-0.0005},{"x":3606,"y":-0.0010},{"x":3606,"y":-0.0015},{"x":3606,"y":-0.0020},{"x":3606,"y":-0.0025},
      {"x":3606,"y":-0.0030},{"x":3606,"y":-0.0035},{"x":3606,"y":-0.0040},{"x":3606,"y":-0.0045},{"x":3606,"y":-0.0050},{"x":3606,"y":-0.0055},{"x":3606,"y":-0.0060},{"x":3606,"y":-0.0065},{"x":3606,"y":-0.0070},{"x":3606,"y":-0.0075},
      {"x":3606,"y":-0.0080},{"x":3606,"y":-0.0085},{"x":3606,"y":-0.0090},{"x":3606,"y":-0.0095},{"x":3606,"y":-0.0100},{"x":3606,"y":-0.0105},{"x":3606,"y":-0.0110},{"x":3606,"y":-0.0115},{"x":3606,"y":-0.0121},{"x":3606,"y":-0.0128},
      {"x":3606,"y":-0.0133},{"x":3606,"y":-0.0137},{"x":3606,"y":-0.0141},{"x":3606,"y":-0.0145},{"x":3606,"y":-0.0150},{"x":3606,"y":-0.0155},{"x":3606,"y":-0.0165},{"x":3606,"y":-0.0181},
      {"x":4310,"y":0.0098},{"x":4310,"y":0.0067},{"x":4310,"y":0.0044},{"x":4310,"y":0.0040},{"x":4310,"y":0.0034},{"x":4310,"y":0.0016},{"x":4310,"y":0.0011},{"x":4310,"y":0.0007},{"x":4310,"y":0.0003},{"x":4310,"y":-0.0002},
      {"x":4310,"y":-0.0006},{"x":4310,"y":-0.0015},{"x":4310,"y":-0.0021},{"x":4310,"y":-0.0028},{"x":4310,"y":-0.0034},{"x":4310,"y":-0.0097},{"x":4310,"y":-0.0106},{"x":4310,"y":-0.0110},{"x":4310,"y":-0.0225},
      {"x":4800,"y":0.0085},{"x":4800,"y":0.0080},{"x":4800,"y":0.0075},{"x":4800,"y":0.0069},{"x":4800,"y":0.0063},{"x":4800,"y":0.0057},{"x":4800,"y":0.0050},{"x":4800,"y":0.0044},{"x":4800,"y":0.0038},{"x":4800,"y":0.0031},
      {"x":4800,"y":0.0025},{"x":4800,"y":0.0019},{"x":4800,"y":0.0013},{"x":4800,"y":0.0006},{"x":4800,"y":0.0000},{"x":4800,"y":-0.0006},{"x":4800,"y":-0.0012},{"x":4800,"y":-0.0018},{"x":4800,"y":-0.0025},{"x":4800,"y":-0.0031},
      {"x":4800,"y":-0.0037},{"x":4800,"y":-0.0043},{"x":4800,"y":-0.0050},{"x":4800,"y":-0.0056},{"x":4800,"y":-0.0062},{"x":4800,"y":-0.0068},{"x":4800,"y":-0.0075},{"x":4800,"y":-0.0080},{"x":4800,"y":-0.0084},{"x":4800,"y":-0.0110},{"x":4800,"y":-0.0129},{"x":4800,"y":-0.0171},
      {"x":5050,"y":0.0107},{"x":5050,"y":0.0102},{"x":5050,"y":0.0097},{"x":5050,"y":0.0092},{"x":5050,"y":0.0087},{"x":5050,"y":0.0082},{"x":5050,"y":0.0077},{"x":5050,"y":0.0072},{"x":5050,"y":0.0067},{"x":5050,"y":0.0062},
      {"x":5050,"y":0.0057},{"x":5050,"y":0.0052},{"x":5050,"y":0.0047},{"x":5050,"y":0.0042},{"x":5050,"y":0.0037},{"x":5050,"y":0.0032},{"x":5050,"y":0.0027},{"x":5050,"y":0.0022},{"x":5050,"y":0.0017},{"x":5050,"y":0.0012},
      {"x":5050,"y":0.0007},{"x":5050,"y":0.0002},{"x":5050,"y":-0.0003},{"x":5050,"y":-0.0008},{"x":5050,"y":-0.0013},{"x":5050,"y":-0.0018},{"x":5050,"y":-0.0023},{"x":5050,"y":-0.0028},{"x":5050,"y":-0.0033},{"x":5050,"y":-0.0038},
      {"x":5050,"y":-0.0043},{"x":5050,"y":-0.0048},{"x":5050,"y":-0.0053},{"x":5050,"y":-0.0058},{"x":5050,"y":-0.0063},{"x":5050,"y":-0.0068},{"x":5050,"y":-0.0073},{"x":5050,"y":-0.0078},{"x":5050,"y":-0.0083},{"x":5050,"y":-0.0088},
      {"x":5050,"y":-0.0093},{"x":5050,"y":-0.0098},{"x":5050,"y":-0.0103},{"x":5050,"y":-0.0108},{"x":5050,"y":-0.0113},{"x":5050,"y":-0.0118},{"x":5050,"y":-0.0123},{"x":5050,"y":-0.0128},{"x":5050,"y":-0.0133},{"x":5050,"y":-0.0138},
      {"x":5050,"y":-0.0143},{"x":5050,"y":-0.0148},{"x":5050,"y":-0.0153},{"x":5050,"y":-0.0158},{"x":5050,"y":-0.0163},{"x":5050,"y":-0.0168},{"x":5050,"y":-0.0173},{"x":5050,"y":-0.0178},{"x":5050,"y":-0.0183},{"x":5050,"y":-0.0188},
      {"x":5050,"y":-0.0193},{"x":5050,"y":-0.0198},{"x":5050,"y":-0.0203},{"x":5050,"y":-0.0208},{"x":5050,"y":-0.0213},{"x":5050,"y":-0.0218},{"x":5050,"y":-0.0243},{"x":5050,"y":-0.0249},{"x":5050,"y":-0.0253},{"x":5050,"y":-0.0262},{"x":5050,"y":-0.0266},{"x":5050,"y":-0.0269},
      {"x":6000,"y":0.0112},{"x":6000,"y":0.0093},{"x":6000,"y":0.0078},{"x":6000,"y":0.0073},{"x":6000,"y":0.0069},{"x":6000,"y":0.0064},{"x":6000,"y":0.0058},{"x":6000,"y":0.0053},{"x":6000,"y":0.0047},{"x":6000,"y":0.0043},
      {"x":6000,"y":0.0038},{"x":6000,"y":0.0034},{"x":6000,"y":0.0029},{"x":6000,"y":0.0025},{"x":6000,"y":0.0019},{"x":6000,"y":0.0014},{"x":6000,"y":0.0008},{"x":6000,"y":0.0003},{"x":6000,"y":-0.0003},{"x":6000,"y":-0.0008},
      {"x":6000,"y":-0.0014},{"x":6000,"y":-0.0019},{"x":6000,"y":-0.0025},{"x":6000,"y":-0.0031},{"x":6000,"y":-0.0036},{"x":6000,"y":-0.0042},{"x":6000,"y":-0.0047},{"x":6000,"y":-0.0053},{"x":6000,"y":-0.0060},{"x":6000,"y":-0.0066},
      {"x":6000,"y":-0.0072},{"x":6000,"y":-0.0079},{"x":6000,"y":-0.0085},{"x":6000,"y":-0.0096},{"x":6000,"y":-0.0112},{"x":6000,"y":-0.0118},{"x":6000,"y":-0.0136},{"x":6000,"y":-0.0164},{"x":6000,"y":-0.0168},{"x":6000,"y":-0.0194},{"x":6000,"y":-0.0218},
      {"x":7200,"y":0.0087},{"x":7200,"y":0.0083},{"x":7200,"y":0.0066},{"x":7200,"y":0.0061},{"x":7200,"y":0.0057},{"x":7200,"y":0.0041},{"x":7200,"y":0.0036},{"x":7200,"y":0.0030},{"x":7200,"y":0.0024},{"x":7200,"y":0.0019},
      {"x":7200,"y":0.0013},{"x":7200,"y":0.0008},{"x":7200,"y":0.0002},{"x":7200,"y":-0.0003},{"x":7200,"y":-0.0008},{"x":7200,"y":-0.0014},{"x":7200,"y":-0.0020},{"x":7200,"y":-0.0026},{"x":7200,"y":-0.0032},{"x":7200,"y":-0.0038},
      {"x":7200,"y":-0.0045},{"x":7200,"y":-0.0052},{"x":7200,"y":-0.0058},{"x":7200,"y":-0.0066},{"x":7200,"y":-0.0074},{"x":7200,"y":-0.0081},{"x":7200,"y":-0.0233},{"x":7200,"y":-0.0311},
      {"x":8400,"y":0.0112},{"x":8400,"y":0.0107},{"x":8400,"y":0.0102},{"x":8400,"y":0.0097},{"x":8400,"y":0.0092},{"x":8400,"y":0.0087},{"x":8400,"y":0.0082},{"x":8400,"y":0.0077},{"x":8400,"y":0.0072},{"x":8400,"y":0.0067},
      {"x":8400,"y":0.0062},{"x":8400,"y":0.0057},{"x":8400,"y":0.0052},{"x":8400,"y":0.0047},{"x":8400,"y":0.0042},{"x":8400,"y":0.0037},{"x":8400,"y":0.0032},{"x":8400,"y":0.0027},{"x":8400,"y":0.0022},{"x":8400,"y":0.0017},
      {"x":8400,"y":0.0012},{"x":8400,"y":0.0007},{"x":8400,"y":0.0002},{"x":8400,"y":-0.0003},{"x":8400,"y":-0.0008},{"x":8400,"y":-0.0013},{"x":8400,"y":-0.0018},{"x":8400,"y":-0.0023},{"x":8400,"y":-0.0028},{"x":8400,"y":-0.0033},
      {"x":8400,"y":-0.0038},{"x":8400,"y":-0.0043},{"x":8400,"y":-0.0048},{"x":8400,"y":-0.0053},{"x":8400,"y":-0.0058},{"x":8400,"y":-0.0063},{"x":8400,"y":-0.0068},{"x":8400,"y":-0.0073},{"x":8400,"y":-0.0078},{"x":8400,"y":-0.0083},
      {"x":8400,"y":-0.0088},{"x":8400,"y":-0.0093},{"x":8400,"y":-0.0098},{"x":8400,"y":-0.0103},{"x":8400,"y":-0.0108},{"x":8400,"y":-0.0113},{"x":8400,"y":-0.0118},{"x":8400,"y":-0.0123},{"x":8400,"y":-0.0128},{"x":8400,"y":-0.0133},
      {"x":8400,"y":-0.0138},{"x":8400,"y":-0.0143},{"x":8400,"y":-0.0148},{"x":8400,"y":-0.0153},{"x":8400,"y":-0.0171},{"x":8400,"y":-0.0176},{"x":8400,"y":-0.0181},{"x":8400,"y":-0.0186},{"x":8400,"y":-0.0191},{"x":8400,"y":-0.0196},
      {"x":8400,"y":-0.0201},{"x":8400,"y":-0.0206},{"x":8400,"y":-0.0219},{"x":8400,"y":-0.0221},{"x":8400,"y":-0.0233},{"x":8400,"y":-0.0237},{"x":8400,"y":-0.0242},{"x":8400,"y":-0.0250},{"x":8400,"y":-0.0268},{"x":8400,"y":-0.0271},{"x":8400,"y":-0.0274}
    ]
  },
  "hconcat": [
    {
      "title": {"text": "(a)", "orient": "bottom", "anchor": "middle", "frame": "bounds", "font": "Open Sans", "fontSize": 17, "fontWeight": "normal", "color": "#000000", "offset": 32, "dx": 51},
      "vconcat": [
        {
          "title": "SHAP Dependence: act_metmin_week_walk",
          "width": 443,
          "height": 368,
          "data": {"name": "walk"},
          "mark": {"type": "circle", "size": 32, "opacity": 1, "color": "#1E88E5"},
          "encoding": {
            "x": {"field": "x", "type": "quantitative", "title": "act_metmin_week_walk",
                  "scale": {"domain": [-347, 7297], "nice": false, "zero": false},
                  "axis": {"values": [0, 1000, 2000, 3000, 4000, 5000, 6000, 7000], "format": "d"}},
            "y": {"field": "y", "type": "quantitative", "title": "SHAP Value (Impact on Depression Risk)",
                  "scale": {"domain": [-0.0785, 0.1085], "nice": false, "zero": false},
                  "axis": {"values": [-0.075, -0.05, -0.025, 0, 0.025, 0.05, 0.075, 0.1], "format": ".3f"}}
          }
        }
      ]
    },
    {
      "title": {"text": "(b)", "orient": "bottom", "anchor": "middle", "frame": "bounds", "font": "Open Sans", "fontSize": 17, "fontWeight": "normal", "color": "#000000", "offset": 32, "dx": 42},
      "vconcat": [
        {
          "title": "SHAP Dependence: act_metmin_week_mod",
          "width": 449,
          "height": 368,
          "data": {"name": "mod"},
          "mark": {"type": "circle", "size": 32, "opacity": 1, "color": "#1E88E5"},
          "encoding": {
            "x": {"field": "x", "type": "quantitative", "title": "act_metmin_week_mod",
                  "scale": {"domain": [-420, 8720], "nice": false, "zero": false},
                  "axis": {"values": [0, 2000, 4000, 6000, 8000], "format": "d"}},
            "y": {"field": "y", "type": "quantitative", "title": "SHAP Value (Impact on Depression Risk)",
                  "scale": {"domain": [-0.0333, 0.0149], "nice": false, "zero": false},
                  "axis": {"values": [-0.03, -0.02, -0.01, 0, 0.01], "format": ".2f"}}
          }
        }
      ]
    }
  ]
}
